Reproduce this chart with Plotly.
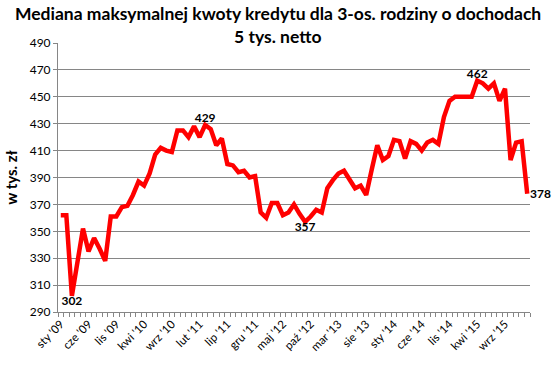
import plotly.graph_objects as go

months = ["sty", "lut", "mar", "kwi", "maj", "cze", "lip", "sie", "wrz", "paź", "lis", "gru"]
years = ["09", "10", "11", "12", "13", "14", "15", "16"]
categories = [f"{m} '{y}" for y in years for m in months][:85]

values = [
    362, 362, 302, 327, 352, 335, 345, 337, 328, 361, 361, 368,
    369, 377, 387, 384, 393, 407, 412, 410, 409, 425, 425, 420,
    428, 420, 429, 426, 414, 419, 400, 399, 394, 395, 390, 391,
    364, 360, 371, 371, 362, 364, 370, 363, 357, 361, 366, 364,
    382, 388, 393, 395, 388, 382, 384, 377, 396, 414, 403, 406,
    418, 417, 404, 417, 415, 410, 416, 418, 415, 435, 447, 450,
    450, 450, 450, 462, 460, 456, 460, 447, 456, 403, 416, 417,
    378,
]

label_idx = {2: "bottom center", 26: "top center", 44: "bottom center", 75: "top center"}
last_idx = len(values) - 1
labels = [str(values[i]) if i in label_idx else "" for i in range(len(values))]
positions = [label_idx.get(i, "top center") for i in range(len(values))]

tick_idx = list(range(0, 85, 5))[:17]
tick_text = [categories[i] for i in tick_idx]

y_ticks = list(range(290, 491, 20))

title_lines = ["Mediana maksymalnej kwoty kredytu dla 3-os. rodziny o dochodach", "5 tys. netto"]

font_family = "Lato, 'Open Sans', Arial, sans-serif"
label_font = dict(family=font_family, size=12, color="#000000", weight="bold")

fig = go.Figure()
fig.add_trace(go.Scatter(
    x=list(range(len(values))),
    y=values,
    mode="lines+text",
    line=dict(color="#ff0000", width=4.5),
    text=labels,
    textposition=positions,
    textfont=label_font,
    cliponaxis=False,
    hoverinfo="skip",
    showlegend=False,
))

title_x = (277.5 - 58) / 472

fig.update_layout(
    width=555,
    height=366,
    margin=dict(l=58, r=25, t=43, b=54),
    paper_bgcolor="white",
    plot_bgcolor="white",
    font=dict(family=font_family, color="#000000"),
    annotations=[
        dict(text=f"<b>{title_lines[0]}</b>", x=title_x, xref="paper", xanchor="center",
             y=1 + (43 - 13) / 269, yref="paper", yanchor="middle", showarrow=False,
             font=dict(family=font_family, size=17.5, color="#000000")),
        dict(text=f"<b>{title_lines[1]}</b>", x=title_x, xref="paper", xanchor="center",
             y=1 + (43 - 37) / 269, yref="paper", yanchor="middle", showarrow=False,
             font=dict(family=font_family, size=17.5, color="#000000")),
        dict(text=str(values[last_idx]), x=last_idx, y=values[last_idx], xref="x", yref="y",
             xanchor="left", yanchor="middle", xshift=1, showarrow=False,
             font=label_font),
    ],
    xaxis=dict(
        range=[-0.5, 84.5],
        tickmode="array",
        tickvals=tick_idx,
        ticktext=tick_text,
        tickangle=-45,
        tickfont=dict(size=11.5, color="#000000"),
        ticks="",
        showgrid=False,
        showline=True,
        linecolor="#868686",
        linewidth=1,
        zeroline=False,
        minor=dict(tick0=-0.5, dtick=1, ticks="outside", ticklen=4, tickcolor="#868686", showgrid=False),
    ),
    yaxis=dict(
        range=[290, 490],
        tickmode="array",
        tickvals=y_ticks,
        tickfont=dict(size=12, color="#000000"),
        ticks="outside",
        ticklen=4,
        tickcolor="#868686",
        showgrid=True,
        gridcolor="#868686",
        gridwidth=1,
        showline=True,
        linecolor="#868686",
        linewidth=1,
        zeroline=False,
        title=dict(text="<b>w tys. zł</b>", font=dict(size=15, color="#000000"), standoff=8),
    ),
)

fig.write_html(
    "out.html",
    config={"displayModeBar": False},
    post_script="document.body.style.margin='0';document.body.style.overflow='hidden';",
)
